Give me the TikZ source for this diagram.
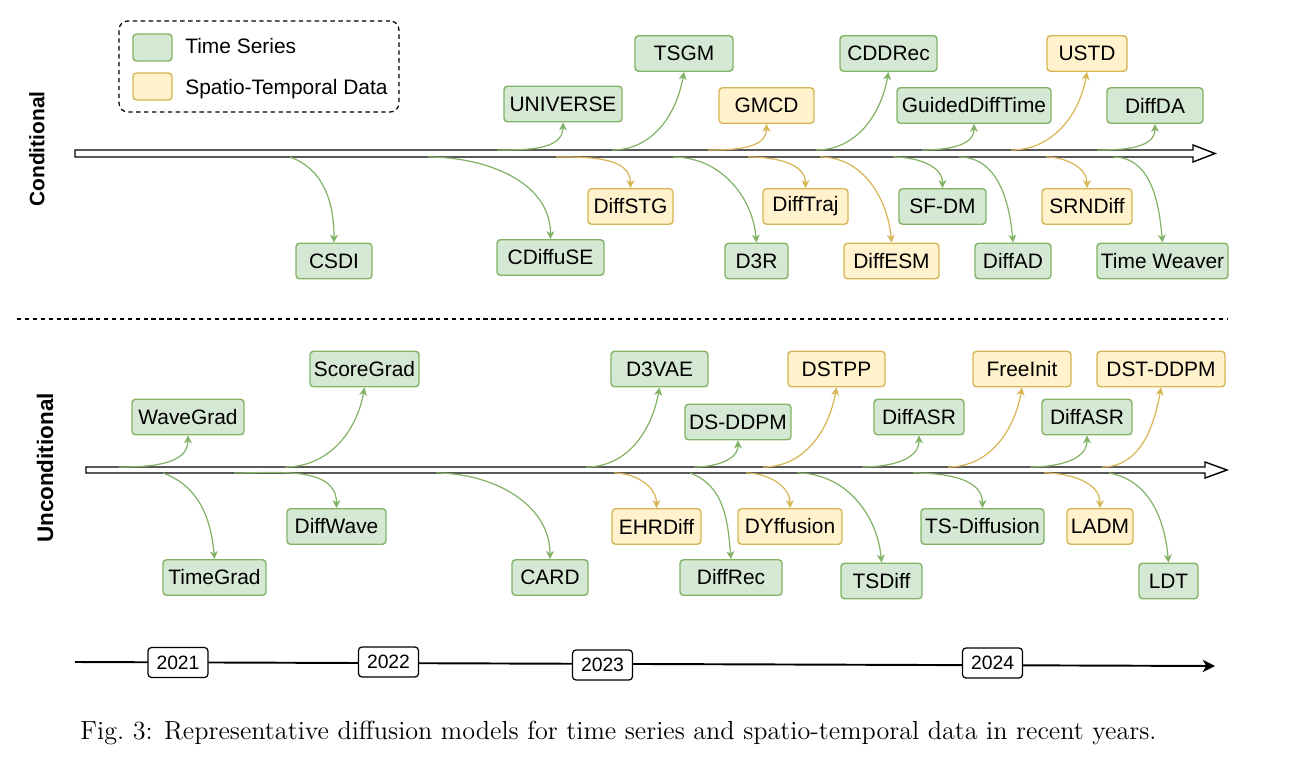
\documentclass[tikz,border=0pt]{standalone}
\usepackage{fontspec}
\setsansfont{Liberation Sans}
\usetikzlibrary{arrows.meta}

\definecolor{tsFill}{HTML}{D5E8D4}
\definecolor{tsLine}{HTML}{82B366}
\definecolor{stFill}{HTML}{FFF2CC}
\definecolor{stLine}{HTML}{D6B656}

\begin{document}
\begin{tikzpicture}[
    x=0.02cm, y=-0.02cm,
    >={Stealth[length=4.5pt, width=4.5pt, inset=1.3pt]},
    % Box styles for the two data kinds
    tsBox/.style={draw=tsLine, fill=tsFill, line width=0.8pt, rounded corners=2pt,
        minimum height=0.71cm, inner sep=1pt, font=\sffamily\fontsize{11.9}{14}\selectfont},
    stBox/.style={tsBox, draw=stLine, fill=stFill},
    tsArrow/.style={->, draw=tsLine, line width=0.7pt},
    stArrow/.style={->, draw=stLine, line width=0.7pt},
    yearBox/.style={draw, fill=white, line width=0.7pt, rounded corners=2pt,
        minimum width=1.2cm, minimum height=0.6cm, inner sep=1pt, font=\sffamily\fontsize{11}{13}\selectfont},
    axisArrow/.style={draw, fill=white, line width=0.8pt},
    sideLabel/.style={rotate=90, font=\sffamily\bfseries\fontsize{11.9}{14}\selectfont}
]
    \useasboundingbox (0,0) rectangle (1301,764);

    % --- LEGEND ---
    \node[draw, dash pattern=on 2.5pt off 2pt, line width=0.7pt, rounded corners=5pt,
        minimum width=5.6cm, minimum height=1.82cm] (legend) at (259,66.5) {};
    \node[tsBox, minimum width=0.78cm, minimum height=0.54cm] (tsSwatch) at (152.5,47.5) {};
    \node[stBox, minimum width=0.78cm, minimum height=0.54cm] (stSwatch) at (152.5,86.5) {};
    \node[font=\sffamily\fontsize{11.9}{14}\selectfont, anchor=west, inner sep=0pt] (tsText) at (185,46) {Time Series};
    \node[font=\sffamily\fontsize{11.9}{14}\selectfont, anchor=west, inner sep=0pt] (stText) at (185,89) {Spatio-Temporal Data};

    % --- SIDE LABELS ---
    \node[sideLabel] (condLabel) at (37,149) {Conditional};
    \node[sideLabel, font=\sffamily\bfseries\fontsize{12.8}{15}\selectfont] (uncondLabel) at (45,468) {Unconditional};

    % --- CONDITIONAL AXIS ---
    \draw[axisArrow] (75,150) -- (1193,150) -- (1193,145) -- (1215,153.5) -- (1193,162) -- (1193,157) -- (75,157) -- cycle;
    \coordinate (condTop) at (75,150);
    \coordinate (condBot) at (75,157);

    % above the axis
    \node[tsBox, minimum width=2.36cm] (universe) at (563,104) {UNIVERSE};
    \node[tsBox, minimum width=1.96cm] (tsgm) at (684,53.5) {TSGM};
    \node[stBox, minimum width=1.90cm] (gmcd) at (766.5,105.5) {GMCD};
    \node[tsBox, minimum width=1.94cm] (cddrec) at (888.5,53.5) {CDDRec};
    \node[tsBox, minimum width=3.08cm] (guidedDiffTime) at (974,105.5) {GuidedDiffTime};
    \node[stBox, minimum width=1.60cm] (ustd) at (1087,53.5) {USTD};
    \node[tsBox, minimum width=1.92cm] (diffda) at (1155,105.5) {DiffDA};

    % below the axis
    \node[tsBox, minimum width=1.52cm] (csdi) at (334,261) {CSDI};
    \node[tsBox, minimum width=2.14cm] (cdiffuse) at (550.5,257.5) {CDiffuSE};
    \node[stBox, minimum width=1.70cm] (diffstg) at (630.5,206.5) {DiffSTG};
    \node[tsBox, minimum width=1.26cm] (dthreer) at (756.5,261) {D3R};
    \node[stBox, minimum width=1.70cm] (difftraj) at (805.5,206.5) {DiffTraj};
    \node[stBox, minimum width=1.90cm] (diffesm) at (891.5,261) {DiffESM};
    \node[tsBox, minimum width=1.74cm] (sfdm) at (942.5,206.5) {SF-DM};
    \node[tsBox, minimum width=1.52cm] (diffad) at (1013,261) {DiffAD};
    \node[stBox, minimum width=1.80cm] (srndiff) at (1087,206.5) {SRNDiff};
    \node[tsBox, minimum width=2.62cm] (timeWeaver) at (1162.5,261) {Time Weaver};

    \draw[tsArrow] (497,0 |- condTop) to[out=0, in=-90] (universe.south);
    \draw[tsArrow] (612,0 |- condTop) to[out=0, in=-100] (tsgm.south);
    \draw[stArrow] (708,0 |- condTop) to[out=0, in=-90] (gmcd.south);
    \draw[tsArrow] (816,0 |- condTop) to[out=0, in=-100] (cddrec.south);
    \draw[tsArrow] (922,0 |- condTop) to[out=0, in=-90] (guidedDiffTime.south);
    \draw[stArrow] (1011,0 |- condTop) to[out=0, in=-100] (ustd.south);
    \draw[tsArrow] (1097,0 |- condTop) to[out=0, in=-90] (diffda.south);

    \draw[tsArrow] (290,0 |- condBot) to[out=-20, in=90] (csdi.north);
    \draw[tsArrow] (428,0 |- condBot) to[out=0, in=90] (cdiffuse.north);
    \draw[stArrow] (556,0 |- condBot) to[out=0, in=90] (diffstg.north);
    \draw[tsArrow] (673,0 |- condBot) to[out=0, in=95] (dthreer.north);
    \draw[stArrow] (748,0 |- condBot) to[out=0, in=90] (difftraj.north);
    \draw[stArrow] (820,0 |- condBot) to[out=0, in=95] (diffesm.north);
    \draw[tsArrow] (893,0 |- condBot) to[out=0, in=90] (sfdm.north);
    \draw[tsArrow] (959,0 |- condBot) to[out=0, in=95] (diffad.north);
    \draw[stArrow] (1046,0 |- condBot) to[out=0, in=90] (srndiff.north);
    \draw[tsArrow] (1113,0 |- condBot) to[out=0, in=95] (timeWeaver.north);

    % --- SEPARATOR ---
    \draw[dash pattern=on 2.5pt off 2pt, line width=0.7pt] (17,319) -- (1228,319);

    % --- UNCONDITIONAL AXIS ---
    \draw[axisArrow] (86,467) -- (1205,467) -- (1205,462) -- (1227,470) -- (1205,478) -- (1205,473) -- (86,473) -- cycle;
    \coordinate (uncondTop) at (86,467);
    \coordinate (uncondBot) at (86,473);

    % above the axis
    \node[tsBox, minimum width=2.24cm] (wavegrad) at (188,417) {WaveGrad};
    \node[tsBox, minimum width=2.18cm] (scoregrad) at (364.5,369) {ScoreGrad};
    \node[tsBox, minimum width=1.94cm] (dthreevae) at (659.5,369) {D3VAE};
    \node[tsBox, minimum width=2.12cm] (dsddpm) at (738,422) {DS-DDPM};
    \node[stBox, minimum width=1.94cm] (dstpp) at (836.5,369) {DSTPP};
    \node[tsBox, minimum width=1.80cm] (diffasrA) at (919,417) {DiffASR};
    \node[stBox, minimum width=1.96cm] (freeinit) at (1022,369) {FreeInit};
    \node[tsBox, minimum width=1.80cm] (diffasrB) at (1087,417) {DiffASR};
    \node[stBox, minimum width=2.56cm] (dstddpm) at (1161,369) {DST-DDPM};

    % below the axis
    \node[tsBox, minimum width=2.06cm] (timegrad) at (214.5,577.5) {TimeGrad};
    \node[tsBox, minimum width=1.98cm] (diffwave) at (336.5,526.5) {DiffWave};
    \node[tsBox, minimum width=1.52cm] (card) at (550,577.5) {CARD};
    \node[stBox, minimum width=1.78cm] (ehrdiff) at (656.5,526.5) {EHRDiff};
    \node[tsBox, minimum width=2.04cm] (diffrec) at (731,577.5) {DiffRec};
    \node[stBox, minimum width=2.08cm] (dyffusion) at (790,526.5) {DYffusion};
    \node[tsBox, minimum width=1.62cm] (tsdiff) at (881.5,581) {TSDiff};
    \node[tsBox, minimum width=2.46cm] (tsDiffusion) at (982.5,526.5) {TS-Diffusion};
    \node[stBox, minimum width=1.32cm] (ladm) at (1100,526.5) {LADM};
    \node[tsBox, minimum width=1.18cm] (ldt) at (1168.5,581) {LDT};

    \draw[tsArrow] (119,0 |- uncondTop) to[out=0, in=-90] (wavegrad.south);
    \draw[tsArrow] (285,0 |- uncondTop) to[out=0, in=-100] (scoregrad.south);
    \draw[tsArrow] (586,0 |- uncondTop) to[out=0, in=-100] (dthreevae.south);
    \draw[tsArrow] (694,0 |- uncondTop) to[out=0, in=-90] (dsddpm.south);
    \draw[stArrow] (763,0 |- uncondTop) to[out=0, in=-100] (dstpp.south);
    \draw[tsArrow] (862,0 |- uncondTop) to[out=0, in=-90] (diffasrA.south);
    \draw[stArrow] (948,0 |- uncondTop) to[out=0, in=-100] (freeinit.south);
    \draw[tsArrow] (1030,0 |- uncondTop) to[out=0, in=-90] (diffasrB.south);
    \draw[stArrow] (1102,0 |- uncondTop) to[out=0, in=-100] (dstddpm.south);

    \draw[tsArrow] (163,0 |- uncondBot) to[out=-20, in=95] (timegrad.north);
    \draw[tsArrow] (234,0 |- uncondBot) to[out=0, in=90] (diffwave.north);
    \draw[tsArrow] (436,0 |- uncondBot) to[out=0, in=90] (card.north);
    \draw[stArrow] (614,0 |- uncondBot) to[out=0, in=90] (ehrdiff.north);
    \draw[tsArrow] (690,0 |- uncondBot) to[out=-20, in=95] (diffrec.north);
    \draw[stArrow] (746,0 |- uncondBot) to[out=0, in=90] (dyffusion.north);
    \draw[tsArrow] (797,0 |- uncondBot) to[out=0, in=95] (tsdiff.north);
    \draw[tsArrow] (913,0 |- uncondBot) to[out=0, in=90] (tsDiffusion.north);
    \draw[stArrow] (1044,0 |- uncondBot) to[out=0, in=90] (ladm.north);
    \draw[tsArrow] (1109,0 |- uncondBot) to[out=-10, in=95] (ldt.north);

    % --- YEAR LINE ---
    \coordinate (yearStart) at (75,662);
    \coordinate (yearEnd) at (1215,666);
    \draw[-{Stealth[length=7pt, width=7pt, inset=2pt]}, line width=1.1pt] (yearStart) -- (yearEnd);
    \node[yearBox] (y2021) at (178,662.5) {2021};
    \node[yearBox] (y2022) at (388.5,662) {2022};
    \node[yearBox] (y2023) at (602.5,665) {2023};
    \node[yearBox] (y2024) at (992.5,663) {2024};

    % --- CAPTION ---
    \node[font=\fontsize{14.9}{18}\selectfont, inner sep=0pt] (caption) at (618.5,733)
        {Fig.~3: Representative diffusion models for time series and spatio-temporal data in recent years.};

\end{tikzpicture}
\end{document}
